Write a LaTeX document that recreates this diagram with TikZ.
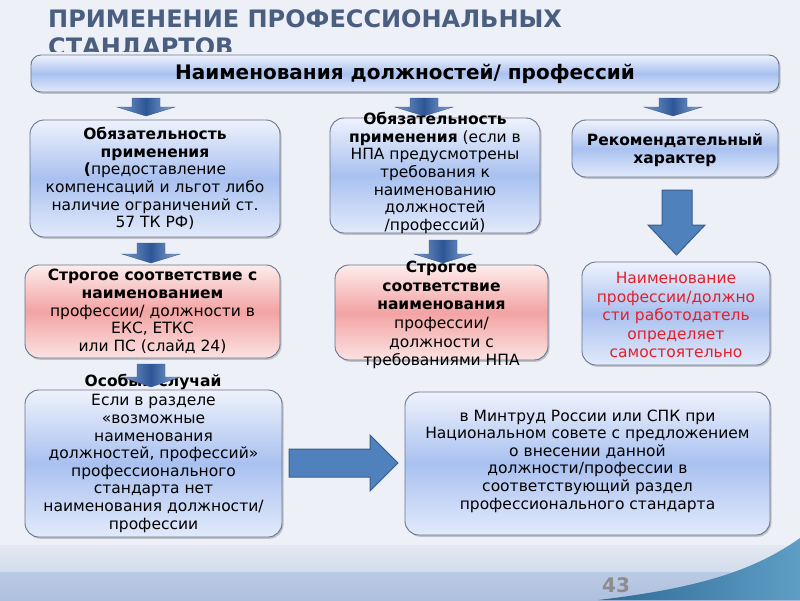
\documentclass[tikz,border=0pt]{standalone}
\usepackage{fontspec}
\setmainfont{DejaVu Sans}
\usetikzlibrary{shadows}
\definecolor{bgc}{HTML}{EEF0F8}
\definecolor{titlec}{HTML}{4A5E80}
\definecolor{bordc}{HTML}{66758C}
\definecolor{bl1}{HTML}{EEF2FC}
\definecolor{bl2}{HTML}{A9C1F0}
\definecolor{bl3}{HTML}{E2EAFB}
\definecolor{rd1}{HTML}{FDECEC}
\definecolor{rd2}{HTML}{F3A3A3}
\definecolor{rd3}{HTML}{FBE2E2}
\definecolor{redtxt}{HTML}{E3202A}
\definecolor{arL}{HTML}{7A9CCE}
\definecolor{arM}{HTML}{2D5697}
\definecolor{arR}{HTML}{8EACD8}
\definecolor{arD}{HTML}{3A5A86}
\definecolor{bigA}{HTML}{4F81BD}
\definecolor{bigD}{HTML}{385D8A}
\definecolor{band1}{HTML}{E4E9F3}
\definecolor{band2}{HTML}{D2DCEC}
\definecolor{band3}{HTML}{BCCBE4}
\definecolor{band4}{HTML}{AEC0DE}
\definecolor{sw1}{HTML}{2E6A98}
\definecolor{sw2}{HTML}{5E9EC4}
\definecolor{numc}{HTML}{8C8C8C}
\tikzset{
  boxbase/.style={draw=bordc, line width=0.9pt, rounded corners=14pt, inner sep=0pt,
    drop shadow={shadow xshift=1.5pt, shadow yshift=-1.8pt, fill=black!45, opacity=0.45}},
  bluebox/.style={boxbase, top color=bl1, bottom color=bl3, middle color=bl2},
  redbox/.style={boxbase, top color=rd1, bottom color=rd3, middle color=rd2},
  txt/.style={align=center, inner sep=0pt, font=\fontsize{15.5}{17.6}\selectfont},
}
\newcommand{\sarr}[4]{%
  \shade[left color=arL, right color=arR, middle color=arM, draw=arD, line width=0.4pt]
   ({#1-14},{#2}) -- ({#1+14},{#2}) -- ({#1+14},{#3}) -- ({#1+29},{#3}) -- ({#1},{#4})
   -- ({#1-29},{#3}) -- ({#1-14},{#3}) -- cycle;}
\begin{document}
\begin{tikzpicture}[x=1pt,y=-1pt]
\useasboundingbox (0,0) rectangle (800,600);
\fill[bgc] (0,0) rectangle (800,600);
% bottom band
\shade[top color=band1, bottom color=band2] (0,545) rectangle (800,572);
\shade[top color=band3, bottom color=band4] (0,572) rectangle (800,600);
\shade[left color=sw1, right color=sw2] (598,600) .. controls (700,588) and (755,570) .. (800,538) -- (800,600) -- cycle;
\node[font=\bfseries\fontsize{20}{20}\selectfont, text=numc, inner sep=0] (num) at (616,585) {43};
% title
\node[anchor=base west, inner sep=0, text=titlec, font=\bfseries\fontsize{24}{24}\selectfont] (t1) at (48,27) {ПРИМЕНЕНИЕ ПРОФЕССИОНАЛЬНЫХ};
\begin{scope}
\clip (0,0) rectangle (800,51);
\node[anchor=base west, inner sep=0, text=titlec, font=\bfseries\fontsize{24}{24}\selectfont] (t2) at (48,55) {СТАНДАРТОВ};
\end{scope}
% top box
\node[bluebox, rounded corners=10pt, minimum width=748pt, minimum height=37pt] (top) at (405,73.5) {};
\node[inner sep=0, font=\bfseries\fontsize{20}{20}\selectfont] (topt) at (top.center) {Наименования должностей/ профессий};
% arrows row 0
\sarr{146}{98}{107}{116}
\sarr{424}{98}{107}{116}
\sarr{673}{98}{107}{116}
% row 1 boxes
\node[bluebox, minimum width=250pt, minimum height=117pt] (a1) at (155,178.5) {};
\node[txt] (a1t) at (a1.center) {\textbf{Обязательность}\\ \textbf{применения}\\ \textbf{(}предоставление\\ компенсаций и льгот либо\\ наличие ограничений ст.\\ 57 ТК РФ)};
\node[bluebox, minimum width=210pt, minimum height=115pt] (b1) at (435,175.5) {};
\node[txt] (b1t) at (435,173) {\textbf{Обязательность}\\ \textbf{применения} (если в\\ НПА предусмотрены\\ требования к\\ наименованию\\ должностей\\ /профессий)};
\node[bluebox, minimum width=206pt, minimum height=57pt] (c1) at (675,148.5) {};
\node[txt] (c1t) at (675,150) {\textbf{Рекомендательный}\\ \textbf{характер}};
% arrows row 1
\sarr{151}{243}{254}{263}
\sarr{443}{240}{254}{263}
% big down arrow
\filldraw[fill=bigA, draw=bigD, line width=1pt] (662,190) -- (692,190) -- (692,225) -- (705,225) -- (676.5,255) -- (648,225) -- (662,225) -- cycle;
% row 2 boxes
\node[redbox, minimum width=255pt, minimum height=93pt] (a2) at (152.5,311.5) {};
\node[txt] (a2t) at (a2.center) {\textbf{Строгое соответствие с}\\ \textbf{наименованием}\\ профессии/ должности в\\ ЕКС, ЕТКС\\ или ПС (слайд 24)};
\node[redbox, minimum width=213pt, minimum height=95pt] (b2) at (441.5,312.5) {};
\node[txt, font=\fontsize{15.5}{18.6}\selectfont] (b2t) at (441.5,315) {\textbf{Строгое}\\ \textbf{соответствие}\\ \textbf{наименования}\\ профессии/\\ должности с\\ требованиями НПА};
\node[bluebox, minimum width=188pt, minimum height=103pt] (c2) at (676,313.5) {};
\node[txt, text=redtxt, font=\fontsize{15.5}{18.5}\selectfont] (c2t) at (676,315) {Наименование\\ профессии/должно\\ сти работодатель\\ определяет\\ самостоятельно};
% special case
\node[inner sep=0, font=\bfseries\fontsize{15.5}{17.6}\selectfont] (spec) at (153,382) {Особый случай};
\sarr{151}{364}{377}{387}
% row 3 boxes
\node[bluebox, minimum width=257pt, minimum height=147pt] (a3) at (153.5,463.5) {};
\node[txt] (a3t) at (a3.center) {Если в разделе\\ «возможные\\ наименования\\ должностей, профессий»\\ профессионального\\ стандарта нет\\ наименования должности/\\ профессии};
\node[bluebox, minimum width=365pt, minimum height=143pt] (b3) at (587.5,463.5) {};
\node[txt] (b3t) at (587.5,461) {в Минтруд России или СПК при\\ Национальном совете с предложением\\ о внесении данной\\ должности/профессии в\\ соответствующий раздел\\ профессионального стандарта};
% right arrow
\filldraw[fill=bigA, draw=bigD, line width=1pt] (289,449) -- (370,449) -- (370,435) -- (398,463) -- (370,491) -- (370,477) -- (289,477) -- cycle;
\end{tikzpicture}
\end{document}
